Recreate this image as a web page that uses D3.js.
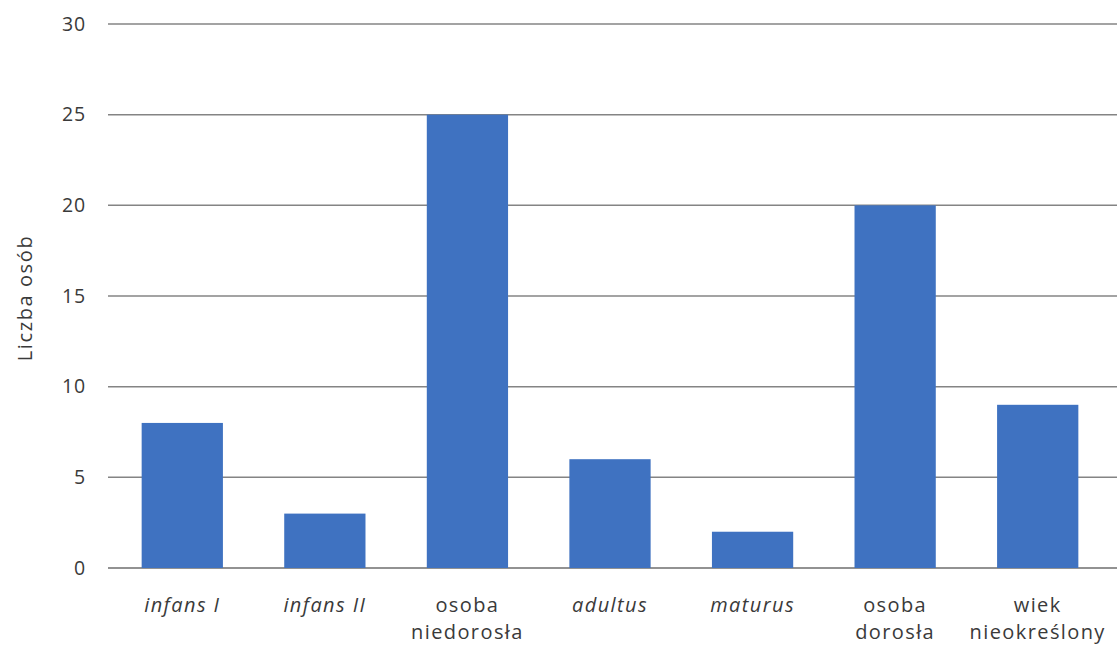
<!DOCTYPE html>
<html>
<head>
<meta charset="utf-8">
<script src="https://cdn.jsdelivr.net/npm/d3@7"></script>
<style>
  body { margin: 0; background: #fff; }
  svg text { font-family: "Open Sans", "Noto Sans", sans-serif; fill: #3a3a3a; }
</style>
</head>
<body>
<svg id="chart"></svg>
<script>
const categories = [["infans I"], ["infans II"], ["osoba", "niedorosła"], ["adultus"], ["maturus"], ["osoba", "dorosła"], ["wiek", "nieokreślony"]];
const italicCats = [true, true, false, true, true, false, false];
const values = [8, 3, 25, 6, 2, 20, 9];
const yTicks = [0, 5, 10, 15, 20, 25, 30];

const width = 1117;
const height = 648;

const svg = d3.select("#chart")
  .attr("width", width)
  .attr("height", height);

const x = d3.scaleBand()
  .domain(d3.range(values.length))
  .range([111, 1109])
  .paddingInner(0.43)
  .paddingOuter(0.215);

const y = d3.scaleLinear()
  .domain([0, 30])
  .range([568, 24]);

// gridlines
svg.append("g")
  .selectAll("line")
  .data(yTicks)
  .enter()
  .append("line")
  .attr("x1", 108)
  .attr("x2", width)
  .attr("y1", d => y(d))
  .attr("y2", d => y(d))
  .attr("stroke", d => d === 0 ? "#6e6e6e" : "#848484")
  .attr("stroke-width", 1.5);

// y tick labels
svg.append("g")
  .selectAll("text")
  .data(yTicks)
  .enter()
  .append("text")
  .attr("x", 86)
  .attr("y", d => y(d))
  .attr("dy", "0.35em")
  .attr("text-anchor", "end")
  .style("font-size", "19.5px")
  .style("letter-spacing", "0.8px")
  .text(d => d);

// bars
svg.append("g")
  .selectAll("rect")
  .data(values)
  .enter()
  .append("rect")
  .attr("x", (d, i) => x(i))
  .attr("y", d => y(d))
  .attr("width", x.bandwidth())
  .attr("height", d => y(0) - y(d))
  .attr("fill", "#3f72c1");

// category labels
const labels = svg.append("g")
  .selectAll("text")
  .data(categories)
  .enter()
  .append("text")
  .attr("text-anchor", "middle")
  .attr("x", (d, i) => x(i) + x.bandwidth() / 2)
  .attr("y", 612)
  .style("font-size", "20px")
  .style("letter-spacing", "1.4px")
  .style("font-style", (d, i) => italicCats[i] ? "italic" : "normal");

labels.selectAll("tspan")
  .data(d => d)
  .enter()
  .append("tspan")
  .attr("x", function() { return d3.select(this.parentNode).attr("x"); })
  .attr("dy", (d, i) => i === 0 ? 0 : 27)
  .text(d => d);

// y axis title
svg.append("text")
  .attr("transform", "translate(32, 298) rotate(-90)")
  .attr("text-anchor", "middle")
  .style("font-size", "20px")
  .style("letter-spacing", "1.6px")
  .text("Liczba osób");
</script>
</body>
</html>
